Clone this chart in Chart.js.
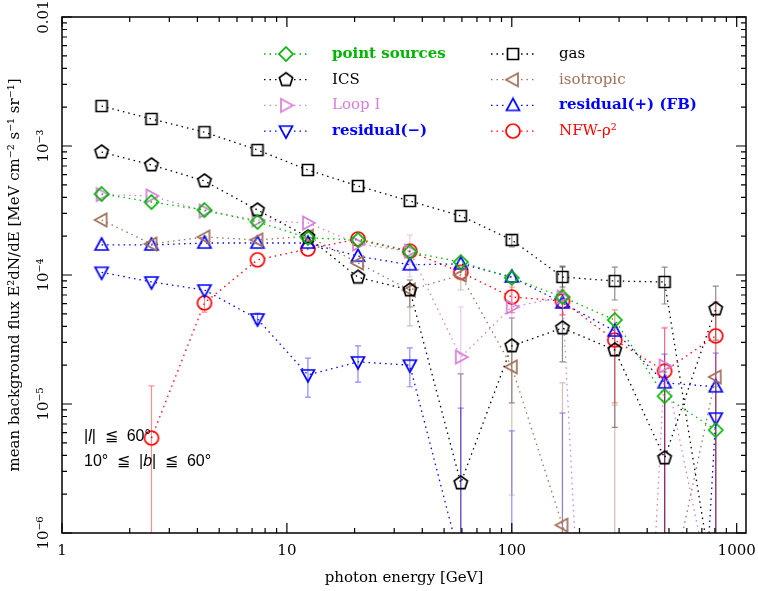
<!DOCTYPE html>
<html>
<head>
<meta charset="utf-8">
<script src="https://cdn.jsdelivr.net/npm/chart.js@4/dist/chart.umd.min.js"></script>
<style>
  body { margin: 0; background: #fff; }
  #wrap { width: 758px; height: 591px; position: relative; }
</style>
</head>
<body>
<div id="wrap"><canvas id="c"></canvas></div>
<script>
// photon energy bins [GeV]
var energies = [1.5, 2.5, 4.3, 7.4, 12.4, 20.7, 35.2, 59.3, 100, 168, 287, 478, 807];

// flux values E^2 dN/dE [MeV cm^-2 s^-1 sr^-1] (1e-12 etc = below plot floor)
var pointSources = [4.25e-4, 3.68e-4, 3.19e-4, 2.58e-4, 1.94e-4, 1.87e-4, 1.51e-4, 1.26e-4, 9.5e-5, 6.75e-5, 4.48e-5, 1.15e-5, 6.28e-6];
var ics          = [8.98e-4, 7.13e-4, 5.36e-4, 3.19e-4, 1.97e-4, 9.6e-5, 7.65e-5, 2.44e-6, 2.82e-5, 3.88e-5, 2.62e-5, 3.81e-6, 5.45e-5];
var loopI        = [4.2e-4, 4.1e-4, 3.13e-4, 2.67e-4, 2.53e-4, 1.74e-4, 1.53e-4, 2.31e-5, 5.65e-5, 6.75e-5, 1e-12, 1.97e-5, 2.3e-7];
var residualNeg  = [1.05e-4, 8.83e-5, 7.65e-5, 4.56e-5, 1.68e-5, 2.12e-5, 2.0e-5, 5.9e-7, 1e-12, 1e-12, 1e-12, 1e-12, 7.78e-6];
var gas          = [2.04e-3, 1.62e-3, 1.28e-3, 9.31e-4, 6.52e-4, 4.9e-4, 3.75e-4, 2.87e-4, 1.87e-4, 9.65e-5, 8.98e-5, 8.83e-5, 3e-7];
var isotropic    = [2.67e-4, 1.74e-4, 1.97e-4, 1.87e-4, 2.0e-4, 1.24e-4, 7.65e-5, 1.0e-4, 1.94e-5, 1.15e-6, 1e-7, 2.2e-7, 1.62e-5];
var residualPos  = [1.71e-4, 1.71e-4, 1.77e-4, 1.77e-4, 1.77e-4, 1.4e-4, 1.2e-4, 1.22e-4, 9.65e-5, 6.07e-5, 3.68e-5, 1.46e-5, 1.36e-5];
var nfw          = [null, 5.45e-6, 6.07e-5, 1.31e-4, 1.59e-4, 1.9e-4, 1.53e-4, 1.05e-4, 6.75e-5, 6.29e-5, 3.13e-5, 1.8e-5, 3.37e-5];

// error bars (lower / upper), null = none drawn
var gasLo = [null, null, null, null, null, null, null, null, 1.65e-4, 8.07e-5, 6.4e-5, 5.96e-5, null];
var gasHi = [null, null, null, null, null, null, null, null, 2.04e-4, 1.17e-4, 1.15e-4, 1.15e-4, null];
var icsLo = [null, null, null, null, null, null, 5.65e-5, 1e-9, 1.02e-5, 2.12e-5, 6.6e-6, 1e-9, 3.13e-5];
var icsHi = [null, null, null, null, null, null, 9.15e-5, 1.71e-5, 4.64e-5, 1.15e-4, 3.95e-5, 1.77e-5, 8.2e-5];
var psLo = [null, null, null, null, null, null, null, null, null, null, null, 1e-9, 1e-9];
var psHi = [null, null, null, null, null, null, null, null, null, null, null, 2.0e-5, 1.36e-5];
var loopLo = [null, null, null, null, null, null, 9.65e-5, 1e-9, 4.64e-5, 4.9e-5, null, 1e-9, null];
var loopHi = [null, null, null, null, null, null, 2.04e-4, 5.65e-5, 8.67e-5, 7.93e-5, null, 3.95e-5, null];
var isoLo = [null, null, null, null, null, null, 4.03e-5, 7.65e-5, 1.97e-6, 1e-9, 1e-9, null, 1e-9];
var isoHi = [null, null, null, null, null, null, 9.15e-5, 1.12e-4, 3.13e-5, 1.46e-5, 9.8e-6, null, 3.0e-5];
var rposLo = [null, null, null, null, null, null, null, null, null, null, null, 1e-9, 1e-9];
var rposHi = [null, null, null, null, null, null, null, null, null, null, null, 2.44e-5, 2.48e-5];
var rnegLo = [null, null, null, 4.2e-5, 1.13e-5, 1.48e-5, 1.36e-5, 1e-9, 1e-9, 1e-9, null, null, null];
var rnegHi = [null, null, null, 5.07e-5, 2.27e-5, 2.82e-5, 2.72e-5, 9.3e-6, 6.2e-6, 8.5e-6, null, null, null];
var nfwLo = [null, 1e-9, 5.16e-5, null, null, null, null, null, 5.1e-5, 4.9e-5, 1.02e-5, 1e-9, 1e-9];
var nfwHi = [null, 1.38e-5, 6.87e-5, null, null, null, null, null, 8.07e-5, 7.65e-5, 5.36e-5, 3.88e-5, 6.18e-5];

// axis ticks
var xTickVals = [1, 10, 100, 1000];
var xTickLabels = ['1', '10', '100', '1000'];
var yTickVals = [1e-6, 1e-5, 1e-4, 1e-3, 1e-2];
var yTickLabels = ['10\u207B\u2076', '10\u207B\u2075', '10\u207B\u2074', '10\u207B\u00B3', '0.01'];

var GREEN = '#00b400', VIOLET = '#d67fd6', BROWN = '#a0705a', BLUE = '#0000ff', RED = '#ff0000', BLACK = '#000000';

function makeMarker(shape, color) {
  var c = document.createElement('canvas');
  c.width = 18; c.height = 18;
  var g = c.getContext('2d');
  g.strokeStyle = color;
  g.lineWidth = 1.7;
  g.translate(9, 9);
  g.beginPath();
  var pts = null;
  if (shape === 'square') g.rect(-5.5, -5.5, 11, 11);
  else if (shape === 'circle') g.arc(0, 0, 7, 0, Math.PI * 2);
  else if (shape === 'pentagon') {
    pts = [];
    for (var k = 0; k < 5; k++) {
      var a = -Math.PI / 2 + k * 2 * Math.PI / 5;
      pts.push([7 * Math.cos(a), 7 * Math.sin(a)]);
    }
  }
  else if (shape === 'diamond') pts = [[0, -7], [7, 0], [0, 7], [-7, 0]];
  else if (shape === 'up') pts = [[0, -7], [6.5, 5], [-6.5, 5]];
  else if (shape === 'down') pts = [[0, 7], [6.5, -5], [-6.5, -5]];
  else if (shape === 'right') pts = [[7, 0], [-5, 6.5], [-5, -6.5]];
  else if (shape === 'left') pts = [[-7, 0], [5, 6.5], [5, -6.5]];
  if (pts) {
    g.moveTo(pts[0][0], pts[0][1]);
    for (var i = 1; i < pts.length; i++) g.lineTo(pts[i][0], pts[i][1]);
    g.closePath();
  }
  g.stroke();
  return c;
}

function series(label, values, color, shape, lo, hi, textColor, bold) {
  return {
    label: label,
    data: energies.map(function (e, i) { return { x: e, y: values[i] }; }),
    borderColor: color,
    backgroundColor: color,
    borderWidth: 1.3,
    borderDash: [1.5, 4],
    pointStyle: makeMarker(shape, color),
    pointRadius: 7,
    spanGaps: false,
    errLo: lo,
    errHi: hi,
    legendText: textColor,
    legendBold: bold
  };
}

var datasets = [
  series('point sources', pointSources, GREEN, 'diamond', psLo, psHi, GREEN, true),
  series('ICS', ics, BLACK, 'pentagon', icsLo, icsHi, BLACK, false),
  series('Loop I', loopI, VIOLET, 'right', loopLo, loopHi, VIOLET, false),
  series('residual(\u2212)', residualNeg, BLUE, 'down', rnegLo, rnegHi, BLUE, true),
  series('gas', gas, BLACK, 'square', gasLo, gasHi, BLACK, false),
  series('isotropic', isotropic, BROWN, 'left', isoLo, isoHi, BROWN, false),
  series('residual(+) (FB)', residualPos, BLUE, 'up', rposLo, rposHi, BLUE, true),
  series('NFW-\u03C1\u00B2', nfw, RED, 'circle', nfwLo, nfwHi, RED, false)
];

function hexAlpha(hex, a) {
  var n = parseInt(hex.slice(1), 16);
  return 'rgba(' + (n >> 16) + ',' + ((n >> 8) & 255) + ',' + (n & 255) + ',' + a + ')';
}

var errorBars = {
  id: 'errorBars',
  beforeDatasetsDraw: function (chart) {
    var ctx = chart.ctx, area = chart.chartArea;
    var xs = chart.scales.x, ys = chart.scales.y;
    ctx.save();
    ctx.beginPath();
    ctx.rect(area.left, area.top, area.right - area.left, area.bottom - area.top);
    ctx.clip();
    chart.data.datasets.forEach(function (ds) {
      ctx.strokeStyle = hexAlpha(ds.borderColor, 0.45);
      ctx.lineWidth = 1.2;
      ds.data.forEach(function (p, i) {
        var lo = ds.errLo[i], hi = ds.errHi[i];
        if (lo == null || hi == null) return;
        var px = xs.getPixelForValue(p.x);
        var yt = ys.getPixelForValue(hi), yb = Math.min(ys.getPixelForValue(lo), area.bottom + 20);
        ctx.beginPath();
        ctx.moveTo(px, yt); ctx.lineTo(px, yb);
        ctx.moveTo(px - 3, yt); ctx.lineTo(px + 3, yt);
        ctx.moveTo(px - 3, yb); ctx.lineTo(px + 3, yb);
        ctx.stroke();
      });
    });
    ctx.restore();
  }
};

var frame = {
  id: 'frame',
  afterDraw: function (chart) {
    var ctx = chart.ctx, a = chart.chartArea;
    var xs = chart.scales.x, ys = chart.scales.y;
    ctx.save();
    ctx.strokeStyle = '#000';
    ctx.lineWidth = 1.5;
    ctx.strokeRect(a.left, a.top, a.right - a.left, a.bottom - a.top);
    ctx.lineWidth = 1.2;
    ctx.beginPath();
    // x ticks, inward, top and bottom
    for (var d = 1; d <= 1000; d *= 10) {
      for (var m = 1; m <= 9; m++) {
        var v = d * m;
        if (v > xs.max) break;
        var px = xs.getPixelForValue(v);
        var len = m === 1 ? 10 : 5;
        ctx.moveTo(px, a.bottom); ctx.lineTo(px, a.bottom - len);
        ctx.moveTo(px, a.top); ctx.lineTo(px, a.top + len);
      }
    }
    // y ticks, inward, left and right
    for (var e = -6; e <= -2; e++) {
      for (var n = 1; n <= 9; n++) {
        var val = n * Math.pow(10, e);
        if (val > ys.max * 1.0001) break;
        var py = ys.getPixelForValue(val);
        var l2 = n === 1 ? 10 : 5;
        ctx.moveTo(a.left, py); ctx.lineTo(a.left + l2, py);
        ctx.moveTo(a.right, py); ctx.lineTo(a.right - l2, py);
      }
    }
    ctx.stroke();

    // region note
    ctx.fillStyle = '#000';
    ctx.textBaseline = 'middle';
    var x0 = 84, y1 = 437, y2 = 462;
    var parts1 = [['|', ''], ['l', 'italic '], ['|  \u2266  60\u00B0', '']];
    var parts2 = [['10\u00B0  \u2266  |', ''], ['b', 'italic '], ['|  \u2266  60\u00B0', '']];
    [[parts1, y1], [parts2, y2]].forEach(function (row) {
      var x = x0;
      row[0].forEach(function (p) {
        ctx.font = p[1] + '16px "Liberation Sans"';
        ctx.fillText(p[0], x, row[1]);
        x += ctx.measureText(p[0]).width;
      });
    });

    // legend, two columns inside the plot
    ctx.textAlign = 'left';
    chart.data.datasets.forEach(function (ds, i) {
      var col = i < 4 ? 0 : 1;
      var row = i % 4;
      var mx = col === 0 ? 286 : 513;
      var my = 54 + row * 25.7;
      ctx.strokeStyle = ds.borderColor;
      ctx.lineWidth = 1.3;
      ctx.setLineDash([1.5, 4]);
      ctx.beginPath();
      ctx.moveTo(mx - 22, my); ctx.lineTo(mx - 8, my);
      ctx.moveTo(mx + 8, my); ctx.lineTo(mx + 22, my);
      ctx.stroke();
      ctx.setLineDash([]);
      ctx.drawImage(ds.pointStyle, mx - 9, my - 9);
      ctx.fillStyle = ds.legendText;
      ctx.font = (ds.legendBold ? 'bold ' : '') + '15px "DejaVu Serif"';
      ctx.fillText(ds.label, mx + 46, my);
    });
    ctx.restore();
  }
};

new Chart(document.getElementById('c'), {
  type: 'line',
  data: { datasets: datasets },
  plugins: [errorBars, frame],
  options: {
    responsive: true,
    maintainAspectRatio: false,
    animation: false,
    layout: { padding: { top: 17, right: 12, left: 0, bottom: 0 } },
    plugins: { legend: { display: false }, tooltip: { enabled: false } },
    scales: {
      x: {
        type: 'logarithmic',
        min: 1,
        max: 1100,
        grid: { display: false, drawTicks: false },
        border: { display: false },
        afterBuildTicks: function (axis) {
          axis.ticks = xTickVals.map(function (v) { return { value: v }; });
        },
        afterFit: function (scale) {
          scale.height = 58;
          scale.paddingLeft = 0;
          scale.paddingRight = 0;
        },
        ticks: {
          padding: 9,
          color: '#000',
          font: { family: 'DejaVu Serif', size: 15 },
          callback: function (value) {
            var i = xTickVals.indexOf(value);
            return i >= 0 ? xTickLabels[i] : '';
          }
        },
        title: {
          display: true,
          text: 'photon energy [GeV]',
          color: '#000',
          font: { family: 'DejaVu Serif', size: 15 },
          padding: { top: 2, bottom: 4 }
        }
      },
      y: {
        type: 'logarithmic',
        min: 1e-6,
        max: 1e-2,
        grid: { display: false, drawTicks: false },
        border: { display: false },
        afterBuildTicks: function (axis) {
          axis.ticks = yTickVals.map(function (v) { return { value: v }; });
        },
        afterFit: function (scale) {
          scale.width = 62;
          scale.paddingTop = 0;
          scale.paddingBottom = 0;
        },
        ticks: {
          minRotation: 90,
          maxRotation: 90,
          crossAlign: 'center',
          padding: 1,
          color: '#000',
          font: { family: 'DejaVu Serif', size: 15 },
          callback: function (value) {
            for (var i = 0; i < yTickVals.length; i++) {
              if (Math.abs(value / yTickVals[i] - 1) < 1e-6) return yTickLabels[i];
            }
            return '';
          }
        },
        title: {
          display: true,
          text: 'mean background flux E\u00B2dN/dE [MeV cm\u207B\u00B2 s\u207B\u00B9 sr\u207B\u00B9]',
          color: '#000',
          font: { family: 'DejaVu Serif', size: 15 },
          padding: { top: 6, bottom: 0 }
        }
      }
    }
  }
});
</script>
</body>
</html>
